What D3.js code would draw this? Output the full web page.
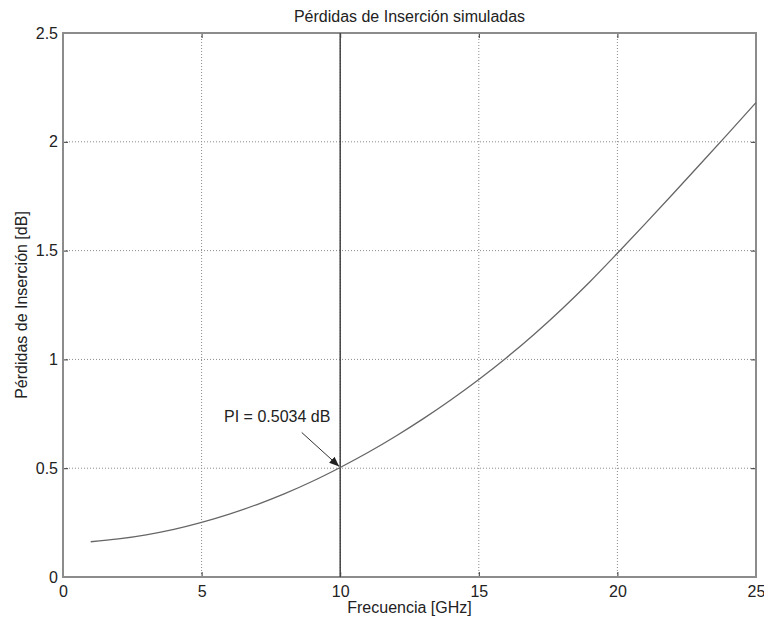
<!DOCTYPE html>
<html>
<head>
<meta charset="utf-8">
<script src="https://cdn.jsdelivr.net/npm/d3@7"></script>
<style>
  html, body { margin: 0; padding: 0; background: #fff; }
  svg { display: block; font-family: "Liberation Sans", Arial, sans-serif; }
</style>
</head>
<body>
<svg id="chart" width="764" height="623"></svg>
<script>
// Simulated insertion loss vs frequency
const freqGHz = [1, 2, 3, 4, 5, 6, 7, 8, 9, 10, 11, 12, 13, 14, 15, 16, 17, 18, 19, 20, 21, 22, 23, 24, 25];
const lossDb  = [0.162, 0.175, 0.194, 0.219, 0.251, 0.289, 0.333, 0.383, 0.440, 0.5034,
                 0.572, 0.647, 0.728, 0.815, 0.908, 1.008, 1.116, 1.232, 1.356, 1.488,
                 1.623, 1.760, 1.899, 2.039, 2.180];
const xTicks = [0, 5, 10, 15, 20, 25];
const yTicks = [0, 0.5, 1, 1.5, 2, 2.5];
const markerFreq = 10;
const markerLoss = 0.5034;
const titleText = "Pérdidas de Inserción simuladas";
const xLabel = "Frecuencia [GHz]";
const yLabel = "Pérdidas de Inserción [dB]";
const annotation = "PI = 0.5034 dB";

const svg = d3.select("#chart");
const plot = { left: 63, right: 756, top: 33, bottom: 577 };
const fontSize = "16px";

const x = d3.scaleLinear().domain([0, 25]).range([plot.left, plot.right]);
const y = d3.scaleLinear().domain([0, 2.5]).range([plot.bottom, plot.top]);

// dotted grid
const grid = svg.append("g");
grid.selectAll("line.gx").data(xTicks.slice(1, -1)).enter().append("line")
  .attr("x1", d => x(d)).attr("x2", d => x(d))
  .attr("y1", plot.top).attr("y2", plot.bottom)
  .attr("stroke", "#8a8a8a").attr("stroke-width", 1).attr("stroke-dasharray", "1,2");
grid.selectAll("line.gy").data(yTicks.slice(1, -1)).enter().append("line")
  .attr("y1", d => y(d)).attr("y2", d => y(d))
  .attr("x1", plot.left).attr("x2", plot.right)
  .attr("stroke", "#8a8a8a").attr("stroke-width", 1).attr("stroke-dasharray", "1,2");

// axes with inward ticks on all four sides
const tickLen = 5;
const axB = svg.append("g").attr("transform", `translate(0,${plot.bottom})`)
  .call(d3.axisBottom(x).tickValues(xTicks).tickSizeInner(-tickLen).tickSizeOuter(0).tickPadding(9).tickFormat(d3.format("")));
const axT = svg.append("g").attr("transform", `translate(0,${plot.top})`)
  .call(d3.axisTop(x).tickValues(xTicks).tickSizeInner(-tickLen).tickSizeOuter(0).tickFormat(""));
const axL = svg.append("g").attr("transform", `translate(${plot.left},0)`)
  .call(d3.axisLeft(y).tickValues(yTicks).tickSizeInner(-tickLen).tickSizeOuter(0).tickPadding(5).tickFormat(d3.format("")));
const axR = svg.append("g").attr("transform", `translate(${plot.right},0)`)
  .call(d3.axisRight(y).tickValues(yTicks).tickSizeInner(-tickLen).tickSizeOuter(0).tickFormat(""));
[axB, axT, axL, axR].forEach(a => {
  a.select(".domain").remove();
  a.selectAll(".tick line").attr("stroke", "#333").attr("stroke-width", 1);
  a.selectAll(".tick text").attr("fill", "#222").style("font-size", fontSize);
});

// plot box
svg.append("rect")
  .attr("x", plot.left).attr("y", plot.top)
  .attr("width", plot.right - plot.left).attr("height", plot.bottom - plot.top)
  .attr("fill", "none").attr("stroke", "#8c8c8c").attr("stroke-width", 2);

// marker line at 10 GHz
svg.append("line")
  .attr("x1", x(markerFreq)).attr("x2", x(markerFreq))
  .attr("y1", plot.top).attr("y2", plot.bottom)
  .attr("stroke", "#444").attr("stroke-width", 1.5);

// loss curve
const line = d3.line().x((d, i) => x(freqGHz[i])).y(d => y(d)).curve(d3.curveMonotoneX);
svg.append("path").datum(lossDb)
  .attr("d", line)
  .attr("fill", "none").attr("stroke", "#666").attr("stroke-width", 1.3);

// annotation arrow
svg.append("defs").append("marker")
  .attr("id", "arrowhead").attr("viewBox", "0 0 10 10")
  .attr("refX", 10).attr("refY", 5)
  .attr("markerWidth", 10).attr("markerHeight", 10)
  .attr("markerUnits", "userSpaceOnUse")
  .attr("orient", "auto")
  .append("path").attr("d", "M0,1 L10,5 L0,9 Z").attr("fill", "#222");
const ax0 = x(markerFreq) - 38.5, ay0 = y(markerLoss) - 35;
svg.append("line")
  .attr("x1", ax0).attr("y1", ay0)
  .attr("x2", x(markerFreq) - 1).attr("y2", y(markerLoss) - 1)
  .attr("stroke", "#333").attr("stroke-width", 1)
  .attr("marker-end", "url(#arrowhead)");
svg.append("text")
  .attr("x", x(markerFreq) - 63).attr("y", ay0 - 10)
  .attr("text-anchor", "middle")
  .attr("fill", "#222").style("font-size", fontSize)
  .text(annotation);

// titles
svg.append("text")
  .attr("x", (plot.left + plot.right) / 2).attr("y", 22)
  .attr("text-anchor", "middle").attr("fill", "#222").style("font-size", fontSize)
  .text(titleText);
svg.append("text")
  .attr("x", (plot.left + plot.right) / 2).attr("y", 613)
  .attr("text-anchor", "middle").attr("fill", "#222").style("font-size", fontSize)
  .text(xLabel);
svg.append("text")
  .attr("transform", `translate(27,${(plot.top + plot.bottom) / 2}) rotate(-90)`)
  .attr("text-anchor", "middle").attr("fill", "#222").style("font-size", fontSize)
  .text(yLabel);
</script>
</body>
</html>
